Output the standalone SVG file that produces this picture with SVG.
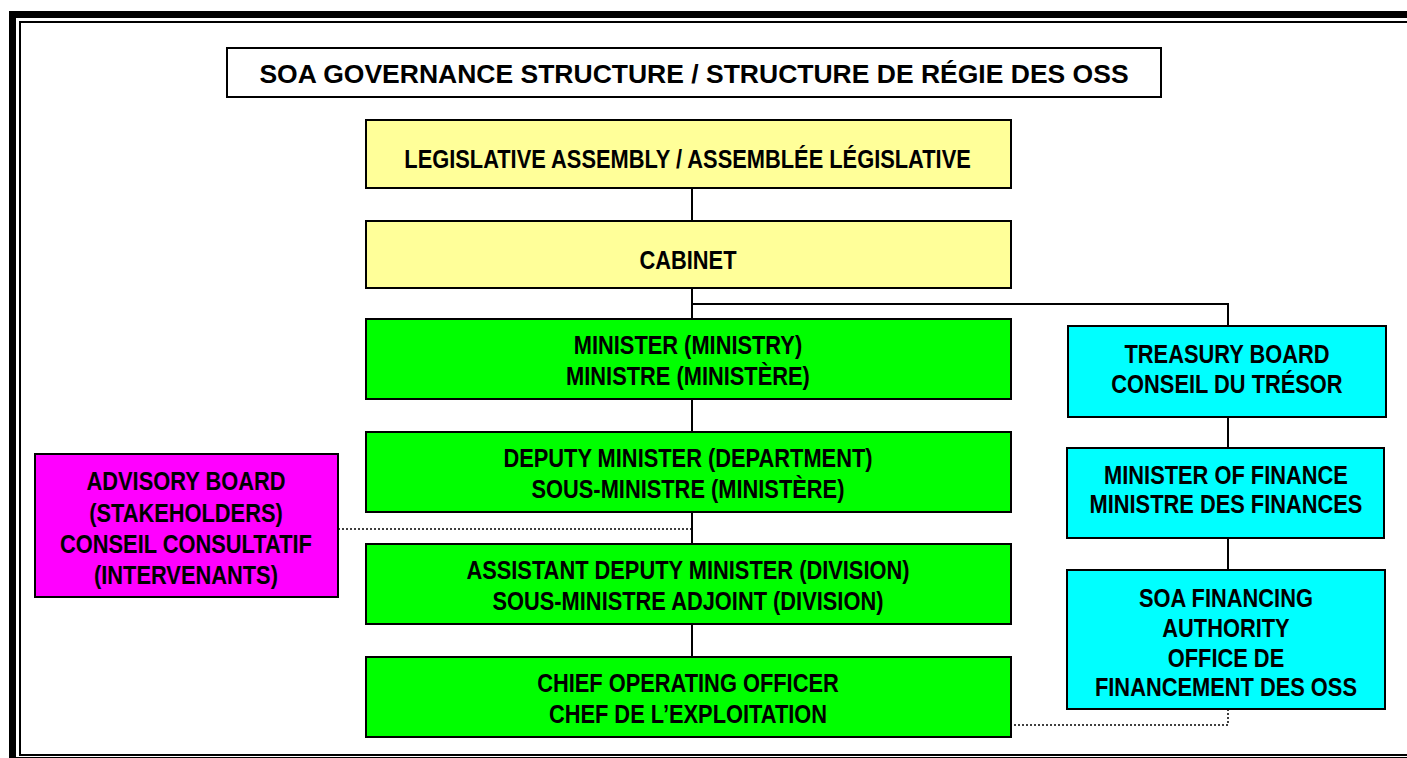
<svg xmlns="http://www.w3.org/2000/svg" width="1407" height="758" viewBox="0 0 1407 758">
<style>
.box{stroke:#000;stroke-width:2}
.y{fill:#FFFF99}.g{fill:#00FF00}.c{fill:#00FFFF}.m{fill:#FF00FF}
.t{font-family:"Liberation Sans",Arial,sans-serif;font-weight:bold;font-size:26px;fill:#000;text-anchor:middle}
.title{font-family:"Liberation Sans",Arial,sans-serif;font-weight:bold;font-size:26.5px;fill:#000;text-anchor:middle}
.ln{stroke:#000;stroke-width:2;fill:none}
.dot{stroke:#000;stroke-width:1.5;fill:none;stroke-dasharray:2 2}
</style>
<rect width="1407" height="758" fill="#fff"/>
<g id="frame">
<rect x="12.5" y="14.5" width="1420" height="746" fill="none" stroke="#000" stroke-width="7"/>
<rect x="20" y="22" width="1410" height="733" fill="none" stroke="#000" stroke-width="2"/>
</g>
<g id="title">
<rect x="227" y="48" width="934" height="49" fill="#fff" class="box"/>
<text class="title" x="694" y="83">SOA GOVERNANCE STRUCTURE / STRUCTURE DE RÉGIE DES OSS</text>
</g>
<g id="connectors">
<path class="ln" d="M692 188V221M692 288V319M692 399V432M692 512V544M692 624V657"/>
<path class="ln" d="M692 304H1228V326M1228 417V448M1228 538V570"/>
<path class="dot" d="M338 529H692"/>
<path class="dot" d="M1228 709V725H1011"/>
</g>
<g id="legislative">
<rect class="box y" x="366" y="120" width="645" height="68"/>
<text class="t" transform="scale(0.84 1)" x="818.5" y="168">LEGISLATIVE ASSEMBLY / ASSEMBLÉE LÉGISLATIVE</text>
</g>
<g id="cabinet">
<rect class="box y" x="366" y="221" width="645" height="67"/>
<text class="t" transform="scale(0.84 1)" x="819" y="269">CABINET</text>
</g>
<g id="minister">
<rect class="box g" x="366" y="319" width="645" height="80"/>
<g transform="scale(0.84 1)">
<text class="t" x="819" y="354">MINISTER (MINISTRY)</text>
<text class="t" x="819" y="385">MINISTRE (MINISTÈRE)</text>
</g>
</g>
<g id="deputy-minister">
<rect class="box g" x="366" y="432" width="645" height="80"/>
<g transform="scale(0.84 1)">
<text class="t" x="819" y="467">DEPUTY MINISTER (DEPARTMENT)</text>
<text class="t" x="819" y="498">SOUS-MINISTRE (MINISTÈRE)</text>
</g>
</g>
<g id="assistant-deputy-minister">
<rect class="box g" x="366" y="544" width="645" height="80"/>
<g transform="scale(0.84 1)">
<text class="t" x="819" y="579">ASSISTANT DEPUTY MINISTER (DIVISION)</text>
<text class="t" x="819" y="610">SOUS-MINISTRE ADJOINT (DIVISION)</text>
</g>
</g>
<g id="coo">
<rect class="box g" x="366" y="657" width="645" height="80"/>
<g transform="scale(0.84 1)">
<text class="t" x="819" y="692">CHIEF OPERATING OFFICER</text>
<text class="t" x="819" y="723">CHEF DE L’EXPLOITATION</text>
</g>
</g>
<g id="advisory-board">
<rect class="box m" x="35" y="454" width="303" height="143"/>
<g transform="scale(0.84 1)">
<text class="t" x="221.4" y="490">ADVISORY BOARD</text>
<text class="t" x="221.4" y="522">(STAKEHOLDERS)</text>
<text class="t" x="221.4" y="553">CONSEIL CONSULTATIF</text>
<text class="t" x="221.4" y="584">(INTERVENANTS)</text>
</g>
</g>
<g id="treasury-board">
<rect class="box c" x="1068" y="326" width="318" height="91"/>
<g transform="scale(0.84 1)">
<text class="t" x="1460.7" y="363">TREASURY BOARD</text>
<text class="t" x="1460.7" y="393">CONSEIL DU TRÉSOR</text>
</g>
</g>
<g id="minister-of-finance">
<rect class="box c" x="1067" y="448" width="317" height="90"/>
<g transform="scale(0.84 1)">
<text class="t" x="1459.5" y="484">MINISTER OF FINANCE</text>
<text class="t" x="1459.5" y="513">MINISTRE DES FINANCES</text>
</g>
</g>
<g id="soa-financing-authority">
<rect class="box c" x="1067" y="570" width="318" height="139"/>
<g transform="scale(0.84 1)">
<text class="t" x="1459.5" y="607">SOA FINANCING</text>
<text class="t" x="1459.5" y="637">AUTHORITY</text>
<text class="t" x="1459.5" y="667">OFFICE DE</text>
<text class="t" x="1459.5" y="696">FINANCEMENT DES OSS</text>
</g>
</g>
</svg>
